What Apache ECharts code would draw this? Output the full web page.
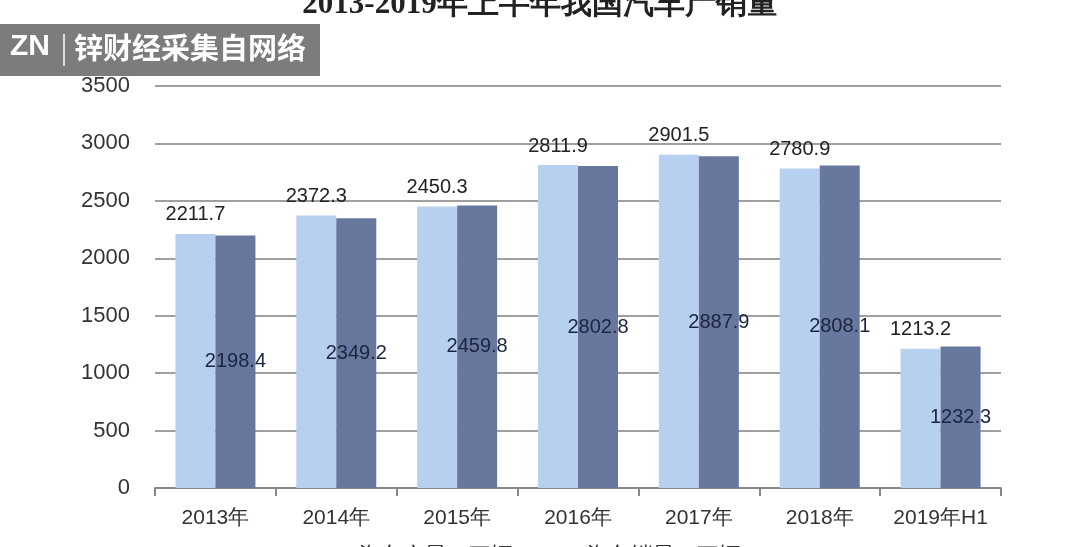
<!DOCTYPE html>
<html><head><meta charset="utf-8">
<script src="https://cdn.jsdelivr.net/npm/echarts@6/dist/echarts.min.js"></script>
<style>html,body{margin:0;padding:0;background:#fff}#c{width:1080px;height:547px}</style>
</head><body><div id="c"></div>
<script>
const categories = ['2013年','2014年','2015年','2016年','2017年','2018年','2019年H1'];
const production = [2211.7, 2372.3, 2450.3, 2811.9, 2901.5, 2780.9, 1213.2];
const sales = [2198.4, 2349.2, 2459.8, 2802.8, 2887.9, 2808.1, 1232.3];
const yTicks = [0, 500, 1000, 1500, 2000, 2500, 3000, 3500];

const chart = echarts.init(document.getElementById('c'));
chart.setOption({
  animation: false,
  backgroundColor: '#fff',
  title: {
    text: '2013-2019年上半年我国汽车产销量',
    left: 'center', top: -16,
    textStyle: {fontFamily: 'Liberation Serif, serif', fontWeight: 'bold', fontSize: 31, color: '#222'}
  },
  legend: {
    bottom: -24, left: 'center', itemGap: 55,
    itemWidth: 14, itemHeight: 14,
    textStyle: {fontSize: 22, color: '#333', fontFamily: 'Noto Sans CJK SC'},
    data: ['汽车产量：万辆', '汽车销量：万辆']
  },
  grid: {left: 155, right: 79, top: 86, bottom: 59},
  xAxis: {
    type: 'category', data: categories,
    axisLine: {lineStyle: {color: '#888', width: 2}},
    axisTick: {show: true, length: 8, interval: 0, lineStyle: {color: '#888', width: 2}},
    axisLabel: {interval: 0, fontSize: 21, color: '#333', margin: 20, fontFamily: 'Liberation Sans, sans-serif'}
  },
  yAxis: {
    type: 'value', min: yTicks[0], max: yTicks[yTicks.length-1], interval: 500,
    axisLine: {show: false}, axisTick: {show: false},
    axisLabel: {fontSize: 22, color: '#333', margin: 25, fontFamily: 'Liberation Sans, sans-serif', formatter: v => String(v)},
    splitLine: {lineStyle: {color: '#a0a0a0', width: 2}}
  },
  series: [
    {
      name: '汽车产量：万辆', type: 'bar', data: production, barWidth: 40, barGap: '0%',
      itemStyle: {color: '#b8d0ef'},
      label: {show: true, position: 'top', distance: 9, fontSize: 20, color: '#222', fontFamily: 'Liberation Sans, sans-serif'}
    },
    {
      name: '汽车销量：万辆', type: 'bar', data: sales, barWidth: 40,
      itemStyle: {color: '#67779e'},
      label: {show: true, position: 'inside', fontSize: 20, color: '#1c2540', fontFamily: 'Liberation Sans, sans-serif'}
    }
  ],
  graphic: [
    {type: 'rect', left: 0, top: 24, shape: {width: 320, height: 52}, style: {fill: 'rgba(110,110,110,0.9)'}, z: 100},
    {type: 'text', left: 10, top: 32, style: {text: 'ZN', fill: '#fff', fontSize: 30, fontWeight: 'bold', fontFamily: 'Liberation Sans Narrow, sans-serif'}, z: 101},
    {type: 'rect', left: 63, top: 34, shape: {width: 2, height: 32}, style: {fill: '#ddd'}, z: 101},
    {type: 'text', left: 74, top: 33, style: {text: '锌财经采集自网络', fill: '#fff', fontSize: 29, fontWeight: 'bold', fontFamily: 'Noto Sans CJK SC'}, z: 101}
  ]
});
</script></body></html>
